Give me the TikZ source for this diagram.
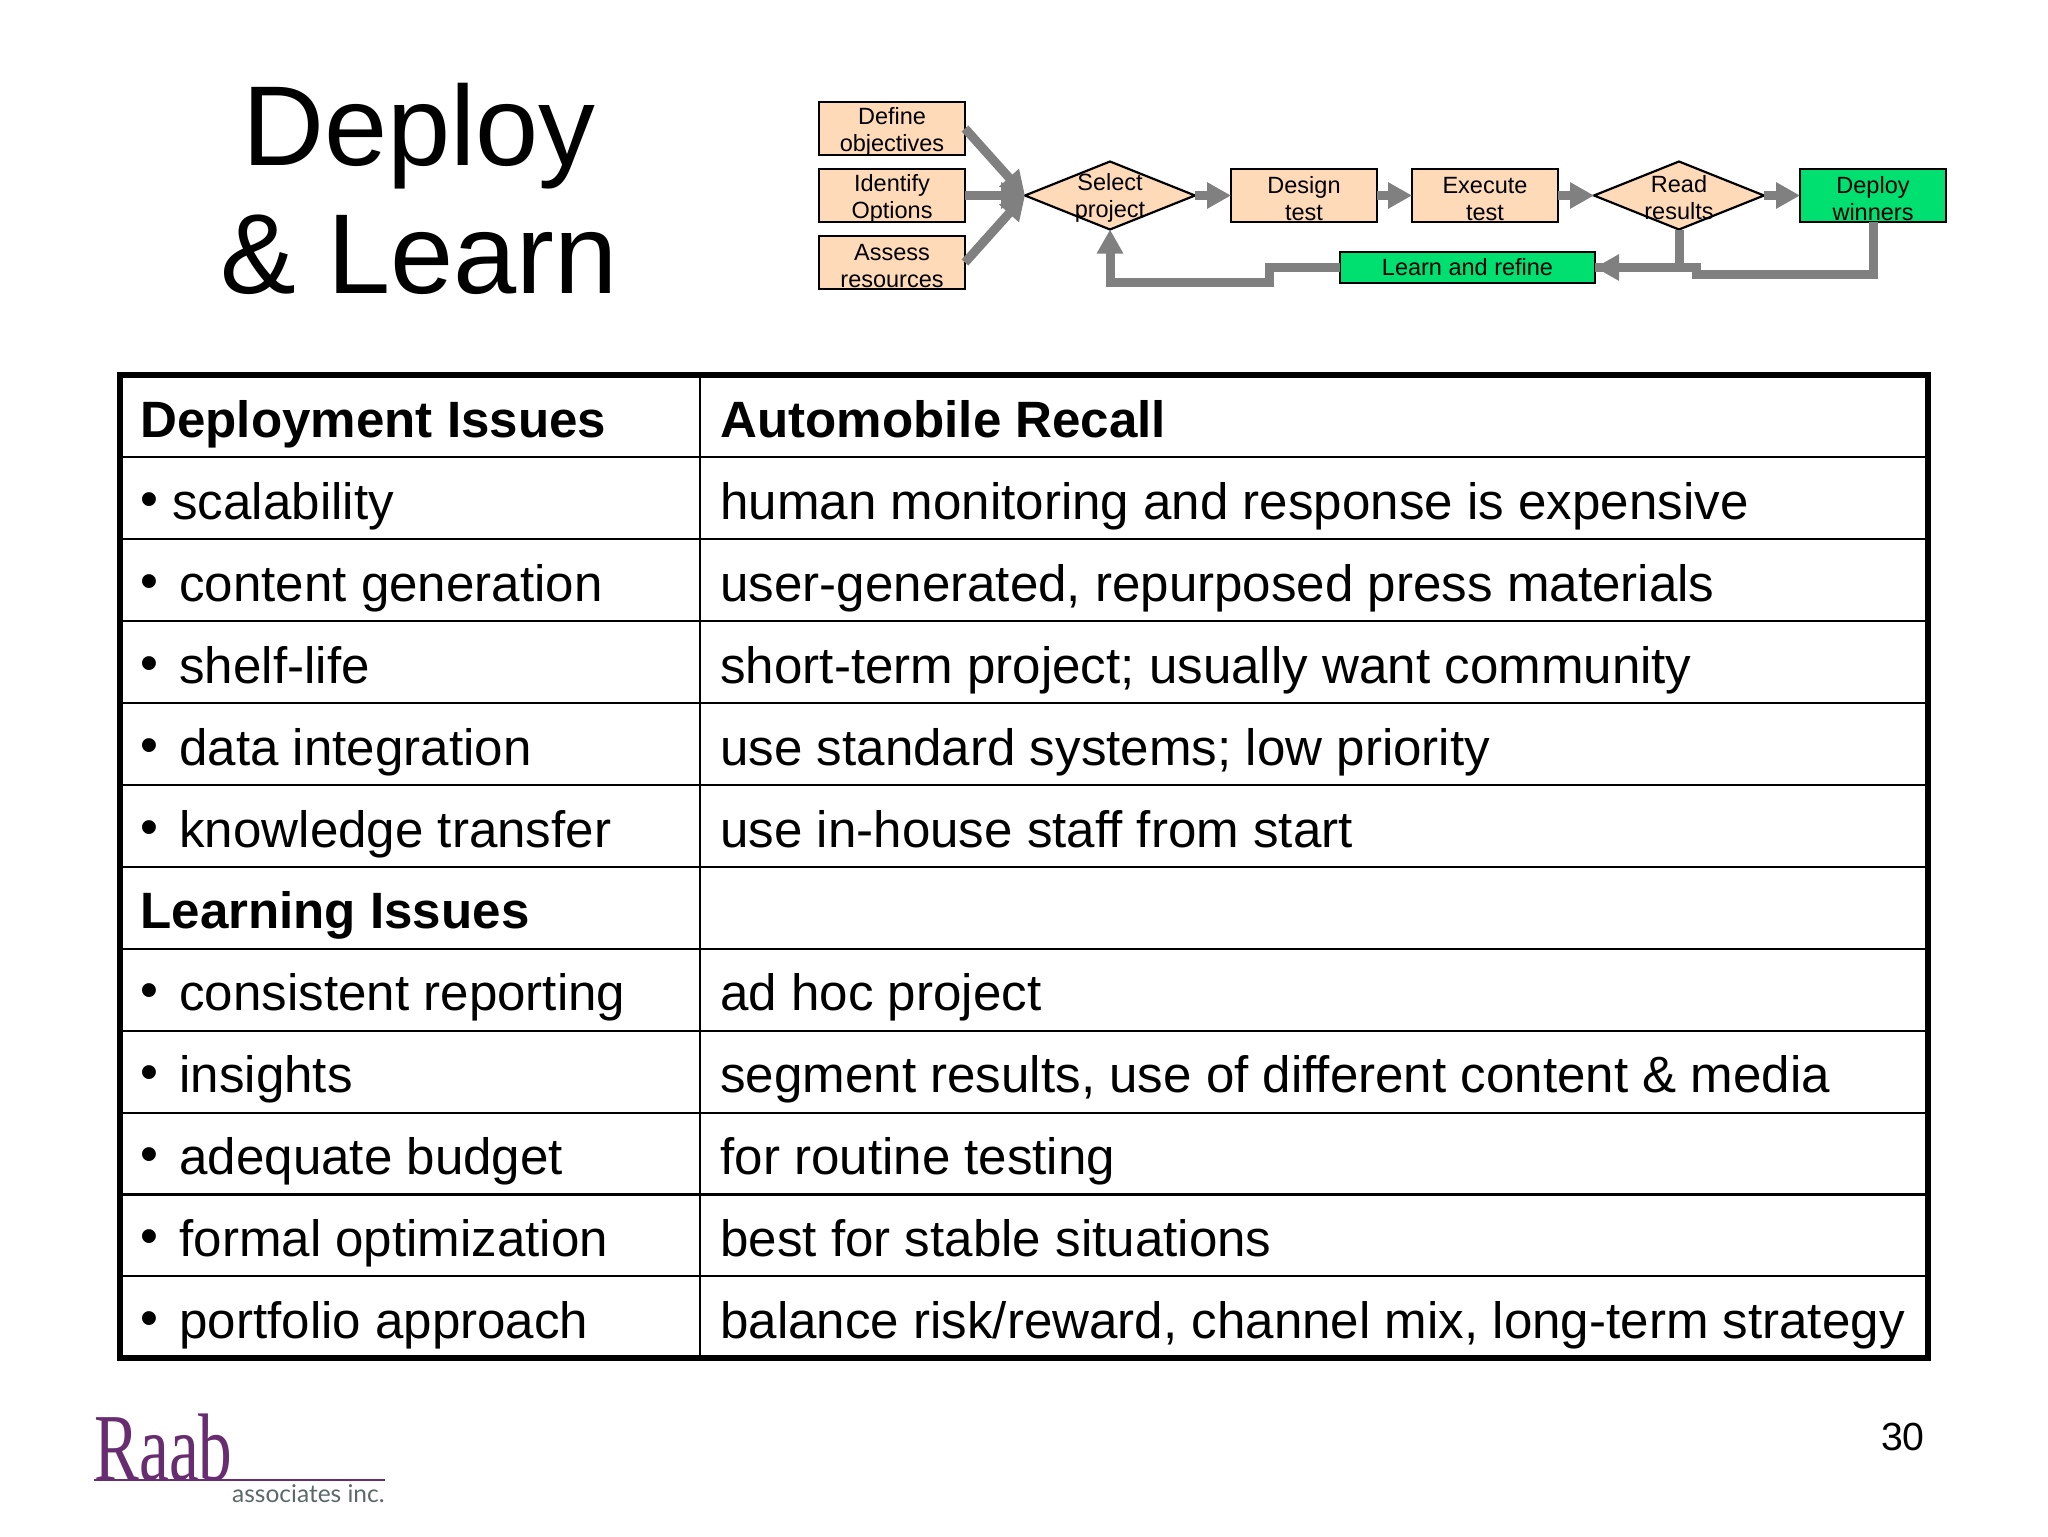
\documentclass[tikz,border=0pt]{standalone}
\usepackage{fontspec}
\setmainfont{Liberation Sans}
\newfontfamily\logofont{Liberation Serif}
\newfontfamily\logosub{Lato}
\usepackage{tikz}
\usetikzlibrary{shapes.geometric, arrows.meta, positioning}

\definecolor{peach}{RGB}{255,218,185}
\definecolor{winner}{RGB}{0,224,112}
\definecolor{flowgray}{RGB}{128,128,128}
\definecolor{logopurple}{RGB}{104,44,112}
\definecolor{logogray}{RGB}{92,104,104}

\newcommand{\bulmark}{\raisebox{1.5pt}{•}}
\newcommand{\bulcell}[1]{\makebox[19.5pt][l]{\bulmark}#1}
\newcommand{\boxtop}{\rule{0pt}{11.7pt}}
\newcommand{\diatop}{\rule{0pt}{10.5pt}}

\begin{document}
\begin{tikzpicture}[
    x=0.5pt, y=-0.5pt,
    node distance=7pt and 18pt,
    title/.style={align=center, inner sep=0pt, font=\fontsize{56.8}{64}\selectfont},
    stepbox/.style={draw, rectangle, line width=1.3pt, outer sep=0pt, fill=peach, minimum width=73pt, minimum height=26.5pt, inner xsep=0pt, inner ysep=-2pt, align=center, font=\fontsize{11.75}{13.5}\selectfont},
    greenbox/.style={stepbox, fill=winner},
    decision/.style={draw, diamond, aspect=2.5, line width=1.1pt, outer sep=0pt, fill=peach, minimum width=85pt, minimum height=34pt, inner sep=0pt},
    decisiontext/.style={align=center, inner sep=0pt, font=\fontsize{11.75}{13.5}\selectfont},
    arrow/.style={-{Triangle[length=12pt, width=12.5pt]}, line width=4.5pt, flowgray},
    plainflow/.style={line width=4.5pt, flowgray},
    cell/.style={anchor=base west, inner sep=0pt, font=\fontsize{25.55}{30}\selectfont},
    headcell/.style={cell, font=\fontsize{25.55}{30}\selectfont\bfseries},
    rule/.style={line width=1.4pt},
    frame/.style={line width=3pt}
]
\useasboundingbox (0,0) rectangle (2048,1536);

% Title
\node (title) [title] at (419,189) {Deploy\\\& Learn};

% Inputs
\node (define) [stepbox] at (892,128.5) {\boxtop Define\\objectives};
\node (identify) [stepbox, below=of define] {\boxtop Identify\\Options};
\node (assess) [stepbox, below=of identify] {\boxtop Assess\\resources};

% Main flow
\node (select) [decision, right=30pt of identify] {};
\node (selecttext) [decisiontext] at (select) {\diatop Select\\project};
\node (design) [stepbox, right=of select] {\boxtop Design\\test};
\node (execute) [stepbox, right=17.5pt of design] {\boxtop Execute\\test};
\node (read) [decision, right=of execute] {};
\node (readtext) [decisiontext] at (read) {\diatop Read\\results};
\node (deploy) [greenbox, right=of read] {\boxtop Deploy\\winners};
\node (learn) [greenbox, minimum width=127.5pt, minimum height=15.5pt, below=15pt of execute, xshift=-8.75pt] {Learn and refine};

% Helper points for the return lines
\coordinate (selectjog) at (1269,282);
\coordinate (deployjog) at (1696,274);

% Connections
\draw [arrow] (define.east) -- (select.west);
\draw [arrow] (identify.east) -- (select.west);
\draw [arrow] (assess.east) -- (select.west);
\draw [arrow] (select.east) -- (design.west);
\draw [arrow] (design.east) -- (execute.west);
\draw [arrow] (execute.east) -- (read.west);
\draw [arrow] (read.east) -- (deploy.west);
\draw [arrow] (read.south) |- (learn.east);
\draw [plainflow] (deploy.south) |- (deployjog) |- (learn.east);
\draw [arrow] (learn.west) -| (selectjog) -| (select.south);

% Table frame and rules
\draw [rule] (120,457) -- (1928,457);
\draw [rule] (120,539) -- (1928,539);
\draw [rule] (120,621) -- (1928,621);
\draw [rule] (120,703) -- (1928,703);
\draw [rule] (120,785) -- (1928,785);
\draw [rule] (120,867) -- (1928,867);
\draw [rule] (120,949) -- (1928,949);
\draw [rule] (120,1031) -- (1928,1031);
\draw [rule] (120,1113) -- (1928,1113);
\draw [rule] (120,1194.5) -- (1928,1194.5);
\draw [rule] (120,1276) -- (1928,1276);
\draw [rule] (700,375) -- (700,1358);
\draw [frame] (120,375) rectangle (1928,1358);

% Left column
\node (left1) [headcell] at (140,437) {Deployment Issues};
\node (left2) [cell] at (140,519) {\makebox[16pt][l]{\bulmark}scalability};
\node (left3) [cell] at (140,601) {\bulcell{content generation}};
\node (left4) [cell] at (140,683) {\bulcell{shelf-life}};
\node (left5) [cell] at (140,765) {\bulcell{data integration}};
\node (left6) [cell] at (140,847) {\bulcell{knowledge transfer}};
\node (left7) [headcell] at (140,928.5) {Learning Issues};
\node (left8) [cell] at (140,1010.5) {\bulcell{consistent reporting}};
\node (left9) [cell] at (140,1092.5) {\bulcell{insights}};
\node (left10) [cell] at (140,1174.5) {\bulcell{adequate budget}};
\node (left11) [cell] at (140,1256) {\bulcell{formal optimization}};
\node (left12) [cell] at (140,1338) {\bulcell{portfolio approach}};

% Right column
\node (right1) [headcell] at (720,437) {Automobile Recall};
\node (right2) [cell] at (720,519) {human monitoring and response is expensive};
\node (right3) [cell] at (720,601) {user-generated, repurposed press materials};
\node (right4) [cell] at (720,683) {short-term project; usually want community};
\node (right5) [cell] at (720,765) {use standard systems; low priority};
\node (right6) [cell] at (720,847) {use in-house staff from start};
\node (right8) [cell] at (720,1010.5) {ad hoc project};
\node (right9) [cell] at (720,1092.5) {segment results, use of different content \& media};
\node (right10) [cell] at (720,1174.5) {for routine testing};
\node (right11) [cell] at (720,1256) {best for stable situations};
\node (right12) [cell] at (720,1338) {balance risk/reward, channel mix, long-term strategy};

% Logo and page number
\node (raab) [anchor=base west, inner sep=0pt, text=logopurple, font=\fontsize{48}{48}\logofont] at (94,1480) {\scalebox{.7}[1]{Raab}};
\draw [logopurple, line width=.6pt] (raab.base west) -- (385,1480);
\node (associates) [anchor=base east, inner sep=0pt, text=logogray, font=\fontsize{12.25}{14}\logosub] at (385,1502) {associates inc.};
\node (page) [anchor=base east, inner sep=0pt, font=\fontsize{19.6}{24}\selectfont] at (1925,1450) {30};
\end{tikzpicture}
\end{document}
